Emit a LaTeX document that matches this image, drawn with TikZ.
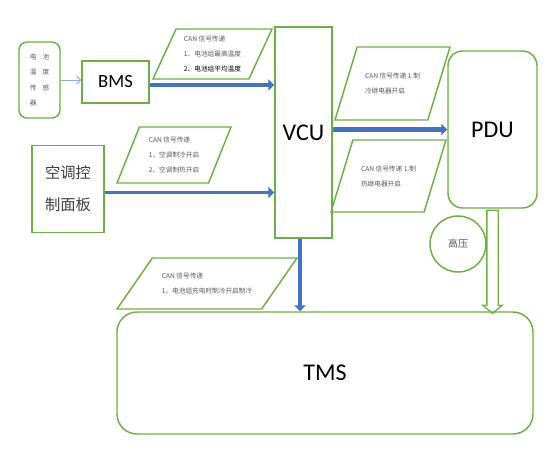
\documentclass[tikz,border=0pt]{standalone}
\usepackage{fontspec}
\setmainfont{Carlito}
\newfontfamily\cjk{Noto Sans CJK SC}
\usepackage{tikz}
\usetikzlibrary{arrows.meta,positioning,calc,shapes.geometric,shapes.arrows}
\usepackage{xcolor}
\definecolor{cgr}{HTML}{70AD47}
\definecolor{cbl}{HTML}{4472C4}
\definecolor{clb}{HTML}{8FAADC}
\definecolor{ctx}{HTML}{595959}

\begin{document}
\begin{tikzpicture}[x=0.75pt,y=-0.75pt,
    box/.style={rectangle,draw=cgr,line width=1.1pt,inner sep=0pt,align=center},
    rbox/.style={box,rounded corners=#1},
    para/.style={trapezium,draw=cgr,line width=1.1pt,trapezium stretches body,inner xsep=0pt,align=left,font=\cjk\fontsize{5}{11.25}\selectfont,text=ctx},
    link/.style={draw=cbl,line width=#1,-{Triangle[length=4.5pt,width=8.5pt]}},
  ]
  \useasboundingbox (0,0) rectangle (550,454);
  % boxes
  \node[rbox=6pt,minimum width=30.75pt,minimum height=57pt,font=\cjk\fontsize{5}{11.6}\selectfont,text=ctx,align=left] (sensor) at (39.5,80) {电\hspace{4.5pt}池\\温\hspace{4.5pt}度\\传\hspace{4.5pt}感\\器};
  \node[box,minimum width=50.25pt,minimum height=31.5pt,font=\fontsize{14}{16}\selectfont] (bms) at (115.5,82) {BMS};
  \node[box,minimum width=54pt,minimum height=65pt,font=\cjk\fontsize{11.5}{24}\selectfont,text=ctx!70!black] (panel) at (68,189) {空调控\\制面板};
  \node[box,minimum width=42.75pt,minimum height=158.25pt,font=\fontsize{18}{20}\selectfont] (vcu) at (303.5,132.5) {VCU};
  \node[rbox=11pt,minimum width=66.75pt,minimum height=117.75pt,font=\fontsize{18}{20}\selectfont] (pdu) at (492.5,129.5) {PDU};
  \node[circle,draw=cgr,line width=1.1pt,minimum size=42pt,inner sep=0pt,font=\cjk\fontsize{7.5}{9}\selectfont,text=ctx] (hv) at (458,244) {高压};
  \node[rbox=15pt,minimum width=312pt,minimum height=91.5pt,font=\fontsize{18}{20}\selectfont] (tms) at (325,373) {TMS};
  % signal notes
  \node[para,trapezium left angle=65,trapezium right angle=115,inner ysep=5pt,minimum width=89.25pt,minimum height=37.5pt] (can1) at (212.5,54) {CAN 信号传递\\1、电池组最高温度\\\textcolor{black}{2、电池组平均温度}};
  \node[para,trapezium left angle=68,trapezium right angle=112,inner ysep=7.25pt,minimum width=85.5pt,minimum height=42pt] (can2) at (174,155) {CAN 信号传递\\1、空调制冷开启\\2、空调制热开启};
  \node[para,trapezium left angle=73,trapezium right angle=107,inner ysep=19.25pt,minimum width=86.25pt,minimum height=54.75pt] (can3) at (392.5,83.5) {CAN 信号传递 1.制\\冷继电器开启};
  \node[para,trapezium left angle=73,trapezium right angle=107,inner ysep=18.9pt,minimum width=86.25pt,minimum height=54pt] (can4) at (388.5,176) {CAN 信号传递 1.制\\热继电器开启};
  \node[para,trapezium left angle=55,trapezium right angle=125,inner ysep=11pt,minimum width=135pt,minimum height=38.25pt] (can5) at (207,283.5) {CAN 信号传递\\1、电池组充电时制冷开启制冷};
  % connectors
  \draw[draw=clb,line width=0.75pt,-{Straight Barb[length=3pt,width=6pt]}] (sensor.east) -- (sensor.east -| bms.west);
  \draw[link=3pt] ([yshift=-2.25pt]bms.east) -- ([yshift=-2.25pt]bms.east -| vcu.west);
  \draw[link=2.25pt] ([yshift=-2.6pt]panel.east) -- ([yshift=-2.6pt]panel.east -| vcu.west);
  \draw[link=3.75pt] (vcu.east |- pdu.west) -- (pdu.west);
  \draw[link=3pt] ([xshift=-2.6pt]vcu.south) -- ([xshift=-2.6pt]vcu.south |- tms.north);
  \node[single arrow,draw=cgr,line width=1pt,rotate=-90,minimum height=77.25pt,inner xsep=0pt,inner ysep=3.75pt,single arrow head extend=3pt,single arrow tip angle=100,anchor=tail] (hvline) at ([yshift=-0.75pt]pdu.south) {};
\end{tikzpicture}
\end{document}
